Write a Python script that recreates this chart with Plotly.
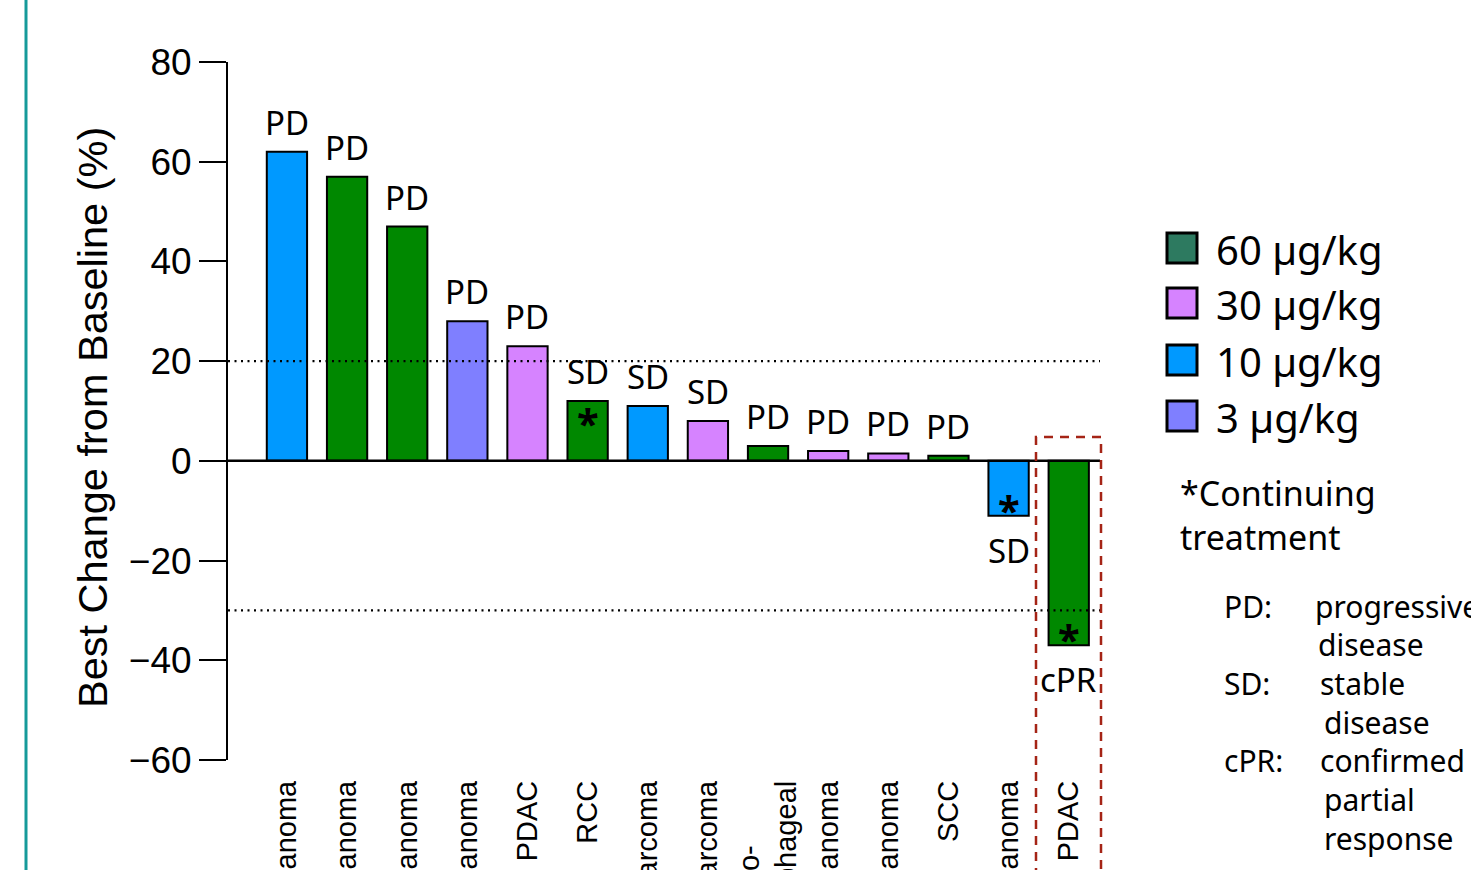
import plotly.graph_objects as go

# ---- data -------------------------------------------------------------
tumor_types = ["Melanoma", "Melanoma", "Melanoma", "Melanoma", "PDAC", "RCC",
               "Sarcoma", "Sarcoma",
               "Gastro-\u00a0\u00a0\u00a0\u00a0\u00a0\u00a0\u00a0\u00a0<br>esophageal",
               "Melanoma", "Melanoma", "SCC", "Melanoma", "PDAC"]
best_change = [62, 57, 47, 28, 23, 12, 11, 8, 3, 2, 1.5, 1, -11, -37]
dose_level = ["10", "60", "60", "3", "30", "60", "10", "30", "60", "30",
              "30", "60", "10", "60"]
response = ["PD", "PD", "PD", "PD", "PD", "SD", "SD", "SD", "PD", "PD",
            "PD", "PD", "SD", "cPR"]
continuing = [False, False, False, False, False, True, False, False, False,
              False, False, False, True, True]

legend_doses = ["60", "30", "10", "3"]
legend_labels = ["60 µg/kg", "30 µg/kg", "10 µg/kg", "3 µg/kg"]
y_ticks = [80, 60, 40, 20, 0, -20, -40, -60]
reference_lines = [20, -30]
abbreviations = [("PD:", ["progressive", "disease"]),
                 ("SD:", ["stable", "disease"]),
                 ("cPR:", ["confirmed", "partial", "response"])]

# ---- styling ----------------------------------------------------------
bar_colors = {"60": "#008800", "30": "#D683FF", "10": "#0099FF", "3": "#7F7FFF"}
legend_colors = {"60": "#2D7A60", "30": "#D683FF", "10": "#0099FF", "3": "#7F7FFF"}
W, H = 1471, 870
L, R, T, B = 228, 1100, 62, 760          # plot area in pixels
LABEL_FONT = "Noto Sans"
AXIS_FONT = "Liberation Sans, Arial"
KEY_X = [[1313, 1316], [1318, 1322], [1318, 1322, 1322]]


def px(x):
    return (x - L) / (R - L)


def py(y):
    return (B - y) / (B - T)


x_idx = list(range(len(best_change)))

fig = go.Figure()
fig.add_trace(go.Bar(
    x=x_idx, y=best_change,
    marker=dict(color=[bar_colors[d] for d in dose_level],
                line=dict(color="black", width=2)),
    width=0.67, showlegend=False, hoverinfo="skip",
))

annotations = []
# response labels above / below each bar
for i, (v, r) in enumerate(zip(best_change, response)):
    up = v >= 0
    annotations.append(dict(
        x=i, y=v, xref="x", yref="y", text=r, showarrow=False,
        yanchor="bottom" if up else "top", yshift=5 if up else -10,
        font=dict(family=LABEL_FONT, size=33, color="black"),
    ))
# asterisk for patients still on treatment
for i, (v, c) in enumerate(zip(best_change, continuing)):
    if not c:
        continue
    up = v >= 0
    annotations.append(dict(
        x=i, y=v, xref="x", yref="y", text="<b>*</b>", showarrow=False,
        yanchor="top" if up else "bottom", yshift=8 if up else -23,
        font=dict(family=LABEL_FONT, size=40, color="black"),
    ))

# y-axis title
annotations.append(dict(x=px(92), y=py(418), xref="paper", yref="paper",
                        text="Best Change from Baseline (%)", showarrow=False,
                        textangle=-90, xanchor="center", yanchor="middle",
                        font=dict(family=AXIS_FONT, size=41.5, color="black")))

shapes = []
for yv in reference_lines:
    shapes.append(dict(type="line", xref="paper", yref="y", x0=0, x1=1,
                       y0=yv, y1=yv,
                       line=dict(color="black", width=2.2, dash="2px,4.5px")))
# zero line
shapes.append(dict(type="line", xref="paper", yref="y", x0=0, x1=1, y0=0, y1=0,
                   line=dict(color="black", width=2.5)))
# highlight box around the confirmed responder
shapes.append(dict(type="rect", xref="paper", yref="paper",
                   x0=px(1036), x1=px(1101), y0=py(900), y1=py(437),
                   line=dict(color="#A52416", width=2.5, dash="9px,7px"),
                   fillcolor="rgba(0,0,0,0)"))
# teal rule on the left edge
shapes.append(dict(type="line", xref="paper", yref="paper",
                   x0=px(26), x1=px(26), y0=py(900), y1=py(-10),
                   line=dict(color="#169A9A", width=3)))

# dose legend
sw_centers = [248, 303, 360, 416]
for d, lab, cy in zip(legend_doses, legend_labels, sw_centers):
    shapes.append(dict(type="rect", xref="paper", yref="paper",
                       x0=px(1167), x1=px(1197), y0=py(cy + 15), y1=py(cy - 15),
                       fillcolor=legend_colors[d],
                       line=dict(color="black", width=3)))
    annotations.append(dict(x=px(1214), y=py(cy + 1), xref="paper", yref="paper",
                            text=lab, showarrow=False, xanchor="left",
                            yanchor="middle",
                            font=dict(family=LABEL_FONT, size=40, color="black")))

annotations.append(dict(x=px(1178), y=py(515), xref="paper", yref="paper",
                        text="*Continuing<br>treatment", showarrow=False,
                        xanchor="left", yanchor="middle", align="left",
                        font=dict(family=LABEL_FONT, size=34, color="black")))

# abbreviation key
row_y = 606
for (abbr, words), xs in zip(abbreviations, KEY_X):
    annotations.append(dict(x=px(1222), y=py(row_y), xref="paper", yref="paper",
                            text=abbr, showarrow=False, xanchor="left",
                            yanchor="middle",
                            font=dict(family=LABEL_FONT, size=30, color="black")))
    for k, (w, xk) in enumerate(zip(words, xs)):
        annotations.append(dict(x=px(xk), y=py(row_y + 38.7 * k),
                                xref="paper", yref="paper", text=w,
                                showarrow=False, xanchor="left", yanchor="middle",
                                font=dict(family=LABEL_FONT, size=30, color="black")))
    row_y += 38.7 * len(words)

fig.update_layout(
    width=W, height=H,
    margin=dict(l=L, r=W - R, t=T, b=H - B, autoexpand=False),
    paper_bgcolor="white", plot_bgcolor="white",
    shapes=shapes, annotations=annotations,
    xaxis=dict(range=[-0.98, 13.52], tickvals=x_idx, ticktext=tumor_types,
               tickangle=-90, showgrid=False, zeroline=False, showline=False,
               ticks="", ticklabelstandoff=14,
               tickfont=dict(family=AXIS_FONT, size=29, color="black")),
    yaxis=dict(range=[-60, 80], tickvals=y_ticks, showgrid=False,
               zeroline=False, showline=True, linecolor="black", linewidth=2,
               ticks="outside", ticklen=27, tickwidth=2, tickcolor="black",
               tickfont=dict(family=AXIS_FONT, size=37, color="black")),
    showlegend=False,
)

fig.write_html("out.html")
